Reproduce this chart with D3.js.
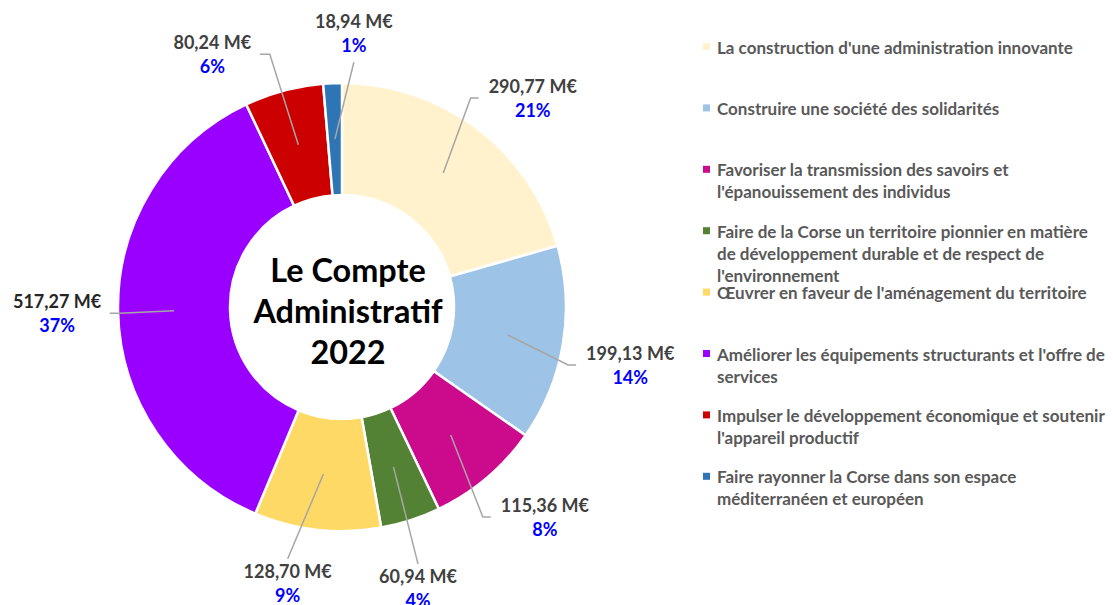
<!DOCTYPE html>
<html>
<head>
<meta charset="utf-8">
<script src="https://cdn.jsdelivr.net/npm/d3@7"></script>
<style>
  html, body { margin: 0; padding: 0; background: #fff; }
  svg { display: block; }
  text { font-family: Lato, "Open Sans", sans-serif; }
</style>
</head>
<body>
<svg id="chart" width="1113" height="605"></svg>
<script>
// ---- DATA ----
const categories = [
  "La construction d'une administration innovante",
  "Construire une société des solidarités",
  "Favoriser la transmission des savoirs et\nl'épanouissement des individus",
  "Faire de la Corse un territoire pionnier en matière\nde développement durable et de respect de\nl'environnement",
  "Œuvrer en faveur de l'aménagement du territoire",
  "Améliorer les équipements structurants et l'offre de\nservices",
  "Impulser le développement économique et soutenir\nl'appareil productif",
  "Faire rayonner la Corse dans son espace\nméditerranéen et européen"
];
const values = [290.77, 199.13, 115.36, 60.94, 128.70, 517.27, 80.24, 18.94];
const colors = ["#FFF2CC", "#9DC3E6", "#CC0A8C", "#548235", "#FFD966", "#9900FF", "#CC0000", "#2E75B6"];
const centerTitle = ["Le Compte", "Administratif", "2022"];

// ---- LAYOUT ----
const W = 1113, H = 605;
const cx = 342, cy = 307;
const rOuter = 224, rInner = 112, rLeader = 168;
const labelAngleNudge = [5.3, 1.8, -3.7, 2.7, 4.8, 0, -12.1, 4.9]; // degrees
const labelRadius = [283, 294, 292, 291, 281, 285, 284, 274];

const svg = d3.select("#chart");
const g = svg.append("g").attr("transform", `translate(${cx},${cy})`);

const total = d3.sum(values);
const pie = d3.pie().sort(null).value(d => d).startAngle(0).endAngle(2 * Math.PI);
const arcs = pie(values);
const arc = d3.arc().innerRadius(rInner).outerRadius(rOuter);

g.selectAll("path.slice")
  .data(arcs)
  .join("path")
  .attr("class", "slice")
  .attr("d", arc)
  .attr("fill", (d, i) => colors[i])
  .attr("stroke", "#fff")
  .attr("stroke-width", 2.5);

// center title
g.append("text")
  .attr("text-anchor", "middle")
  .attr("font-weight", 700)
  .attr("font-size", 32.4)
  .attr("fill", "#000")
  .selectAll("tspan")
  .data(centerTitle)
  .join("tspan")
  .attr("x", 6)
  .attr("y", (d, i) => -37 + i * 41 + 12)
  .text(d => d);

// labels
const fmtVal = v => d3.format(".2f")(v).replace(".", ",") + " M€";
const polar = (a, r) => [r * Math.sin(a), -r * Math.cos(a)];

const labelG = g.append("g");
arcs.forEach((d, i) => {
  const mid = (d.startAngle + d.endAngle) / 2;
  const la = mid + labelAngleNudge[i] * Math.PI / 180;
  const [lx, ly] = polar(la, labelRadius[i]);
  const grp = labelG.append("g").attr("class", "lbl");
  grp.append("text")
    .attr("x", lx).attr("y", ly - 12)
    .attr("text-anchor", "middle")
    .attr("dominant-baseline", "central")
    .attr("font-size", 18).attr("font-weight", 700)
    .attr("fill", i === 5 ? "#262626" : "#404040")
    .text(fmtVal(values[i]));
  grp.append("text")
    .attr("x", lx).attr("y", ly + 12)
    .attr("text-anchor", "middle")
    .attr("dominant-baseline", "central")
    .attr("font-size", 18).attr("font-weight", 700)
    .attr("fill", "#0000FF")
    .text(Math.round(values[i] / total * 100) + "%");

  const bb = grp.node().getBBox();
  const [sx, sy] = polar(mid, rLeader);
  let pts;
  if (sx < bb.x) {
    const ey = ly;
    pts = [[sx, sy], [bb.x - 18, ey], [bb.x - 10, ey]];
  } else if (sx > bb.x + bb.width) {
    const ey = ly;
    pts = [[sx, sy], [bb.x + bb.width + 18, ey], [bb.x + bb.width + 8, ey]];
  } else if (sy > bb.y + bb.height) {
    pts = [[sx, sy], [lx, bb.y + bb.height + 6]];
  } else {
    pts = [[sx, sy], [lx, bb.y - 1]];
  }
  labelG.insert("path", ":first-child")
    .attr("d", d3.line()(pts))
    .attr("fill", "none")
    .attr("stroke", "#A6A6A6")
    .attr("stroke-width", 1.5);
});

// legend
const legend = svg.append("g").attr("transform", "translate(703,47)");
const legStep = 61.4, lineH = 22;
categories.forEach((c, i) => {
  const lg = legend.append("g").attr("transform", `translate(0,${i * legStep})`);
  lg.append("rect").attr("x", 0).attr("y", -4).attr("width", 7).attr("height", 7).attr("fill", colors[i]);
  lg.append("text")
    .attr("font-size", 17).attr("font-weight", 700).attr("fill", "#595959")
    .selectAll("tspan")
    .data(c.split("\n"))
    .join("tspan")
    .attr("x", 14)
    .attr("y", (d, j) => j * lineH)
    .attr("dominant-baseline", "central")
    .text(d => d);
});
</script>
</body>
</html>
